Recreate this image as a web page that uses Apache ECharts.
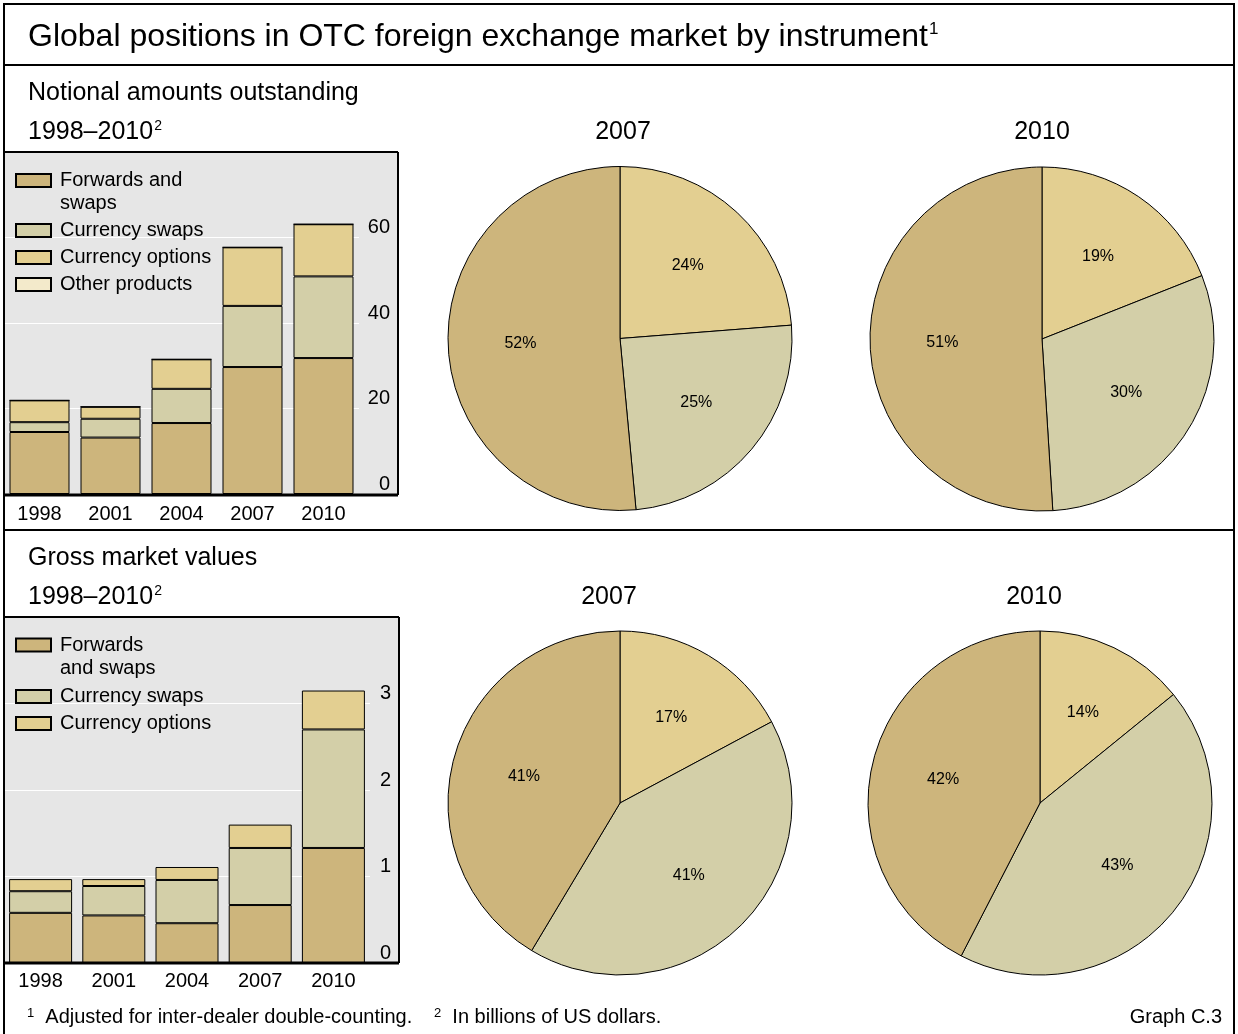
<!DOCTYPE html>
<html>
<head>
<meta charset="utf-8">
<script src="https://cdn.jsdelivr.net/npm/echarts@6/dist/echarts.min.js"></script>
<style>
  html, body { margin: 0; padding: 0; background: #fff; }
  #main { width: 1238px; height: 1034px; }
</style>
</head>
<body>
<div id="main"></div>
<script>
const years = ['1998', '2001', '2004', '2007', '2010']

// notional amounts outstanding, USD bn
const notFwd = [14.5, 13.2, 16.6, 29.7, 31.8]
const notSwap = [2.3, 4.4, 8.0, 14.3, 19.1]
const notOpt = [5.1, 2.8, 6.9, 13.7, 12.2]
const notOther = [0, 0, 0, 0, 0]

// gross market values, USD bn
const grossFwd = [0.58, 0.55, 0.46, 0.67, 1.33]
const grossSwap = [0.25, 0.34, 0.50, 0.66, 1.37]
const grossOpt = [0.14, 0.08, 0.15, 0.27, 0.45]

// pie shares in % (options, swaps, forwards)
const pieNot2007 = [24, 25, 52]
const pieNot2010 = [19, 30, 51]
const pieGross2007 = [17, 41, 41]
const pieGross2010 = [14, 43, 42]

const yTicksTop = [0, 20, 40, 60, 80]
const yTicksBottom = [0, 1, 2, 3, 4]

const cFwd = '#CDB57C'
const cSwap = '#D3CFA8'
const cOpt = '#E3CF91'
const cOther = '#F3EACB'
const FONT = '"Liberation Sans", Arial, sans-serif'

var chart = echarts.init(document.getElementById('main'))

function barSeries(name, data, color, idx, width) {
	return {
		name: name,
		type: 'bar',
		stack: 'st' + idx,
		xAxisIndex: idx,
		yAxisIndex: idx,
		barWidth: width,
		data: data,
		itemStyle: { color: color, borderColor: '#000', borderWidth: 1 },
		emphasis: { disabled: true },
		silent: true
	}
}

function pieSeries(data, cx, cy) {
	return {
		type: 'pie',
		center: [cx, cy],
		radius: 172,
		startAngle: 90,
		clockwise: true,
		silent: true,
		animation: false,
		itemStyle: { borderColor: '#000', borderWidth: 1 },
		label: {
			show: true,
			position: 'inside',
			formatter: '{c}%',
			color: '#000',
			fontSize: 16,
			fontFamily: FONT
		},
		labelLine: { show: false },
		// push the inside labels a little further out, like the original
		labelLayout: function(p) {
			const r = p.labelRect
			const dx = r.x + r.width / 2 - cx
			const dy = r.y + r.height / 2 - cy
			return { dx: dx * 0.12, dy: dy * 0.12 }
		},
		emphasis: { disabled: true },
		data: [
			{ name: 'Currency options', value: data[0], itemStyle: { color: cOpt } },
			{ name: 'Currency swaps', value: data[1], itemStyle: { color: cSwap } },
			{ name: 'Forwards and swaps', value: data[2], itemStyle: { color: cFwd } }
		]
	}
}

function xAx(idx, margin) {
	return {
		type: 'category',
		gridIndex: idx,
		data: years,
		axisLine: { show: false },
		axisTick: { show: false },
		axisLabel: { color: '#000', fontSize: 20, fontFamily: FONT, margin: margin }
	}
}

function yAx(idx, ticks, margin) {
	return {
		type: 'value',
		gridIndex: idx,
		position: 'right',
		min: ticks[0],
		max: ticks[ticks.length - 1],
		interval: ticks[1] - ticks[0],
		axisLine: { show: false },
		axisTick: { show: false },
		splitLine: { lineStyle: { color: '#fff', width: 1 } },
		axisLabel: {
			color: '#000', fontSize: 20, fontFamily: FONT,
			align: 'right', verticalAlign: 'bottom', margin: margin,
			showMaxLabel: false
		}
	}
}

const legText = { color: '#000', fontSize: 20, fontFamily: FONT, padding: [0, 0, 0, 4] }
const legMulti = { color: '#000', fontSize: 20, fontFamily: FONT, lineHeight: 23, padding: [0, 0, 0, 4] }

function txt(x, y, text, size, align, rich) {
	return {
		type: 'text', x: x, y: y, z: 50, silent: true,
		style: {
			text: text, fontSize: size, fontFamily: FONT, fill: '#000',
			align: align || 'left', verticalAlign: 'middle', rich: rich
		}
	}
}
function line(x1, y1, x2, y2, w) {
	return { type: 'line', z: 100, silent: true, shape: { x1: x1, y1: y1, x2: x2, y2: y2 }, style: { stroke: '#000', lineWidth: w } }
}

const supH = { n: { fontSize: 25, fontFamily: FONT }, s: { fontSize: 14, fontFamily: FONT, verticalAlign: 'top', padding: [0, 0, 0, 1] } }
const supT = { n: { fontSize: 32, fontFamily: FONT }, s: { fontSize: 17, fontFamily: FONT, verticalAlign: 'top', padding: [0, 0, 0, 1] } }
const supF = { n: { fontSize: 20, fontFamily: FONT }, s: { fontSize: 13, fontFamily: FONT, verticalAlign: 'top' } }

function leg(top, names, fmt) {
	const l = {
		left: 15, top: top, padding: 0, orient: 'vertical',
		icon: 'rect', itemWidth: 35, itemHeight: 13, itemGap: 7,
		selectedMode: false, data: names,
		textStyle: fmt ? legMulti : legText
	}
	// leading empty line keeps the first text line level with the icon
	if (fmt) l.formatter = () => '\n' + fmt
	return l
}

var option = {
	animation: false,
	grid: [
		{ left: 4, top: 152, width: 355, height: 342 },
		{ left: 4, top: 617, width: 366, height: 346 }
	],
	xAxis: [xAx(0, 10), xAx(1, 8)],
	yAxis: [yAx(0, yTicksTop, 31), yAx(1, yTicksBottom, 21)],
	legend: [
		leg(146, ['Forwards and swaps'], 'Forwards and\nswaps'),
		leg(220.5, ['Currency swaps', 'Currency options', 'Other products']),
		leg(610.5, ['Forwards and swaps'], 'Forwards\nand swaps'),
		leg(686.5, ['Currency swaps', 'Currency options'])
	],
	series: [
		barSeries('Forwards and swaps', notFwd, cFwd, 0, 60),
		barSeries('Currency swaps', notSwap, cSwap, 0, 60),
		barSeries('Currency options', notOpt, cOpt, 0, 60),
		barSeries('Other products', notOther, cOther, 0, 60),
		barSeries('Forwards and swaps', grossFwd, cFwd, 1, 63),
		barSeries('Currency swaps', grossSwap, cSwap, 1, 63),
		barSeries('Currency options', grossOpt, cOpt, 1, 63),
		pieSeries(pieNot2007, 620, 338.5),
		pieSeries(pieNot2010, 1042, 339),
		pieSeries(pieGross2007, 620, 803),
		pieSeries(pieGross2010, 1040, 803)
	],
	graphic: [
		// panel backgrounds
		{ type: 'rect', z: -10, silent: true, shape: { x: 4, y: 152, width: 394, height: 343 }, style: { fill: '#E6E6E6' } },
		{ type: 'rect', z: -10, silent: true, shape: { x: 4, y: 617, width: 395, height: 346 }, style: { fill: '#E6E6E6' } },
		// frame
		line(4, 4, 1235, 4, 2),
		line(4, 3, 4, 1034, 2),
		line(1234, 3, 1234, 1034, 2),
		line(4, 65, 1235, 65, 2),
		line(4, 530, 1235, 530, 2),
		// top panel box
		line(4, 152, 398, 152, 2),
		line(398, 152, 398, 495, 2),
		line(4, 495, 398, 495, 3),
		// bottom panel box
		line(4, 617, 399, 617, 2),
		line(399, 617, 399, 963, 2),
		line(4, 963, 399, 963, 3),
		// texts
		txt(28, 37, '{n|Global positions in OTC foreign exchange market by instrument}{s|1}', 32, 'left', supT),
		txt(28, 93, 'Notional amounts outstanding', 25),
		txt(28, 132, '{n|1998–2010}{s|2}', 25, 'left', supH),
		txt(623, 132, '2007', 25, 'center'),
		txt(1042, 132, '2010', 25, 'center'),
		txt(28, 558, 'Gross market values', 25),
		txt(28, 597, '{n|1998–2010}{s|2}', 25, 'left', supH),
		txt(609, 597, '2007', 25, 'center'),
		txt(1034, 597, '2010', 25, 'center'),
		txt(27, 1017, '{s|1}  {n|Adjusted for inter-dealer double-counting.}', 20, 'left', supF),
		txt(434, 1017, '{s|2}  {n|In billions of US dollars.}', 20, 'left', supF),
		txt(1222, 1017, 'Graph C.3', 20, 'right')
	]
}

chart.setOption(option)
</script>
</body>
</html>
